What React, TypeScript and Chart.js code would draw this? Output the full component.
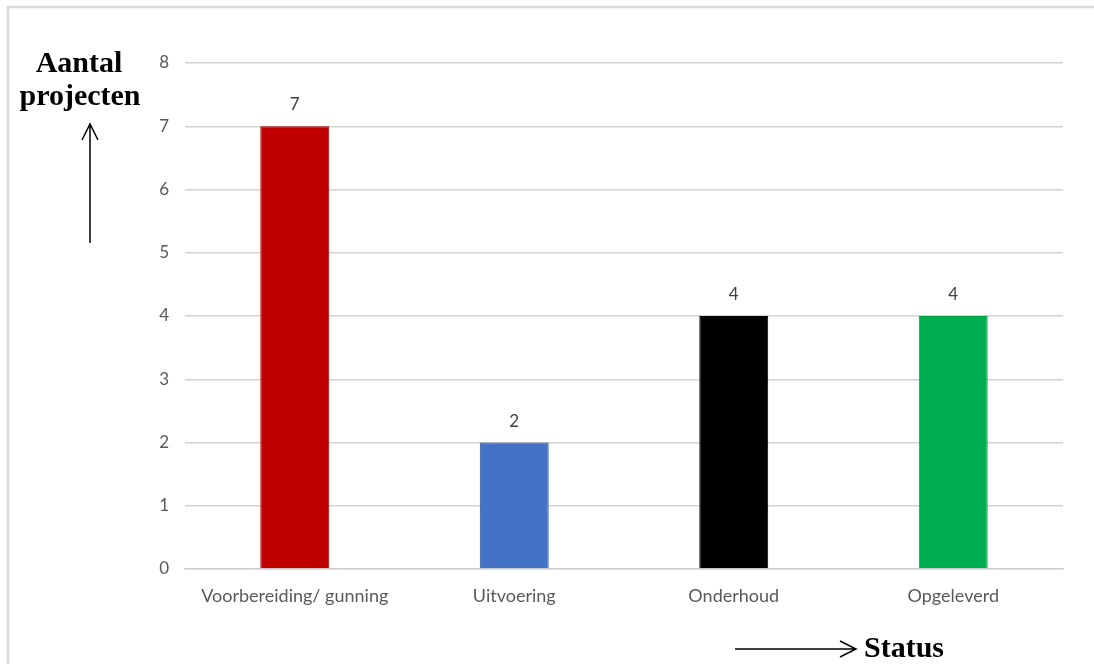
import React, { useEffect, useRef } from "react";
import { Chart, registerables } from "chart.js";

Chart.register(...registerables);

const categories = ["Voorbereiding/ gunning", "Uitvoering", "Onderhoud", "Opgeleverd"];
const values = [7, 2, 4, 4];
const barColors = ["#C00000", "#4472C4", "#000000", "#00B050"];
const barBorders = ["#A80000", "#2F5597", "#000000", "#00A044"];
const yTicks = [0, 1, 2, 3, 4, 5, 6, 7, 8];
const yTitle = ["Aantal", "projecten"];
const xTitle = "Status";

const TICK_FONT = "Lato";

const overlay = {
  id: "overlay",
  afterDatasetsDraw(chart: any) {
    const ctx = chart.ctx;
    const meta = chart.getDatasetMeta(0);
    ctx.save();
    ctx.fillStyle = "#404040";
    ctx.font = `17px ${TICK_FONT}`;
    ctx.textAlign = "center";
    ctx.textBaseline = "alphabetic";
    meta.data.forEach((bar: any, i: number) => {
      ctx.fillText(String(values[i]), bar.x, bar.y - 16);
    });
    ctx.restore();
  },
  afterDraw(chart: any) {
    const ctx = chart.ctx;
    ctx.save();
    // frame
    ctx.strokeStyle = "#D9D9D9";
    ctx.lineWidth = 2.5;
    ctx.beginPath();
    ctx.moveTo(8, 700);
    ctx.lineTo(8, 7);
    ctx.lineTo(1200, 7);
    ctx.stroke();

    // titles
    ctx.fillStyle = "#000000";
    ctx.font = "bold 30px 'Liberation Serif'";
    ctx.textAlign = "center";
    ctx.textBaseline = "alphabetic";
    ctx.fillText(yTitle[0], 79, 72);
    ctx.fillText(yTitle[1], 80, 105);
    ctx.textAlign = "left";
    ctx.fillText(xTitle, 864, 657);

    // arrows
    ctx.strokeStyle = "#000000";
    ctx.lineWidth = 1.5;
    ctx.beginPath();
    ctx.moveTo(90, 243);
    ctx.lineTo(90, 124);
    ctx.moveTo(82, 140);
    ctx.lineTo(90, 124);
    ctx.lineTo(98, 140);
    ctx.moveTo(735, 649);
    ctx.lineTo(856, 649);
    ctx.moveTo(840, 641);
    ctx.lineTo(856, 649);
    ctx.lineTo(840, 657);
    ctx.stroke();
    ctx.restore();
  },
};

export default function App() {
  const ref = useRef<HTMLCanvasElement>(null);
  useEffect(() => {
    if (!ref.current) return;
    const chart = new Chart(ref.current, {
      type: "bar",
      data: {
        labels: categories,
        datasets: [
          {
            data: values,
            backgroundColor: barColors,
            borderColor: barBorders,
            borderWidth: 1,
            categoryPercentage: 1,
            barPercentage: 0.314,
          },
        ],
      },
      options: {
        animation: false,
        responsive: false,
        maintainAspectRatio: false,
        layout: { padding: { left: 0, right: 31, top: 63, bottom: 0 } },
        plugins: { legend: { display: false }, tooltip: { enabled: false } },
        scales: {
          x: {
            grid: { display: false, drawTicks: false },
            border: { display: true, color: "#D0D0D0", width: 1.5 },
            ticks: {
              color: "#595959",
              font: { family: TICK_FONT, size: 18 },
              padding: 16,
              maxRotation: 0,
              autoSkip: false,
            },
            afterFit(scale: any) {
              scale.height = 95;
            },
          },
          y: {
            min: 0,
            max: 8,
            afterBuildTicks(scale: any) {
              scale.ticks = yTicks.map((v) => ({ value: v }));
            },
            grid: { color: "#D3D3D3", lineWidth: 1.5, drawTicks: false },
            border: { display: false },
            ticks: {
              color: "#595959",
              font: { family: TICK_FONT, size: 17 },
              padding: 16,
            },
            afterFit(scale: any) {
              scale.width = 185;
            },
          },
        },
      },
      plugins: [overlay],
    });
    return () => chart.destroy();
  }, []);
  return (
    <div style={{ position: "fixed", left: 0, top: 0, width: 1094, height: 664, background: "#fff" }}>
      <canvas ref={ref} width={1094} height={664} style={{ display: "block", width: 1094, height: 664 }} />
    </div>
  );
}
